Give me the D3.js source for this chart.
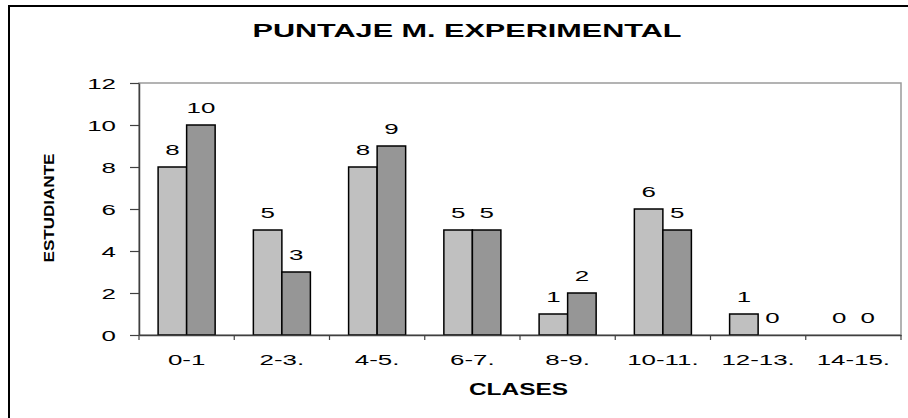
<!DOCTYPE html>
<html>
<head>
<meta charset="utf-8">
<script src="https://cdn.jsdelivr.net/npm/d3@7"></script>
<style>
	body { margin: 0; background: #fff; }
	text { font-family: "Liberation Sans", Arial, sans-serif; fill: #000; }
</style>
</head>
<body>
<div class="chart"></div>
<script>
// values
var categories = ["0-1", "2-3.", "4-5.", "6-7.", "8-9.", "10-11.", "12-13.", "14-15."];
var seriesLight = [8, 5, 8, 5, 1, 6, 1, 0];
var seriesDark = [10, 3, 9, 5, 2, 5, 0, 0];
var seriesNames = ["s1", "s2"];
var seriesColors = ["#c0c0c0", "#969696"];
var yTicks = [0, 2, 4, 6, 8, 10, 12];

var titleText = "PUNTAJE M. EXPERIMENTAL";
var xTitle = "CLASES";
var yTitle = "ESTUDIANTE";

// the original is stretched sideways, so text is too
var stretch = 1.85;

function drawChart() {
	var width = 908,
	    height = 418;
	var plot = {left: 139, right: 901, top: 83, bottom: 335};

	var svg = d3.select("div.chart").append("svg")
	    .attr("width", width)
	    .attr("height", height);

	// outer frame, cut by the right and bottom edges
	svg.append("rect")
	    .attr("x", 9)
	    .attr("y", 6)
	    .attr("width", width + 10)
	    .attr("height", height + 10)
	    .attr("fill", "#fff")
	    .attr("stroke", "#000")
	    .attr("stroke-width", 2);

	var x0 = d3.scaleBand()
	    .domain(categories)
	    .range([plot.left, plot.right])
	    .padding(0);

	var x1 = d3.scaleBand()
	    .domain(seriesNames)
	    .range([0, x0.bandwidth()])
	    .paddingInner(0)
	    .paddingOuter(0.67);

	var y = d3.scaleLinear()
	    .domain([0, 12])
	    .range([plot.bottom, plot.top]);

	// plot area border (top and right show in grey)
	svg.append("rect")
	    .attr("x", plot.left)
	    .attr("y", plot.top)
	    .attr("width", plot.right - plot.left)
	    .attr("height", plot.bottom - plot.top)
	    .attr("fill", "none")
	    .attr("stroke", "#9a9a9a")
	    .attr("stroke-width", 1.5);

	var data = categories.map(function(c, i) {
		return {cat: c, values: [seriesLight[i], seriesDark[i]]};
	});

	var group = svg.selectAll(".group")
	    .data(data)
	    .enter().append("g")
	    .attr("class", "group")
	    .attr("transform", function(d) { return "translate(" + x0(d.cat) + ",0)"; });

	var bar = group.selectAll(".bar")
	    .data(function(d) {
	    	return d.values.map(function(v, j) { return {name: seriesNames[j], value: v, color: seriesColors[j]}; });
	    })
	    .enter().append("g")
	    .attr("class", "bar");

	bar.filter(function(d) { return d.value > 0; })
	    .append("rect")
	    .attr("x", function(d) { return x1(d.name); })
	    .attr("y", function(d) { return y(d.value); })
	    .attr("width", x1.bandwidth())
	    .attr("height", function(d) { return y(0) - y(d.value); })
	    .attr("fill", function(d) { return d.color; })
	    .attr("stroke", "#000")
	    .attr("stroke-width", 1.5);

	bar.append("text")
	    .attr("text-anchor", "middle")
	    .attr("font-size", 14)
	    .attr("transform", function(d) {
	    	var cx = x1(d.name) + x1.bandwidth() / 2;
	    	return "translate(" + cx + "," + (y(d.value) - 12) + ") scale(" + stretch + ",1)";
	    })
	    .text(function(d) { return d.value; });

	// y axis
	var yAxis = svg.append("g")
	    .attr("transform", "translate(" + plot.left + ",0)")
	    .call(d3.axisLeft(y).tickValues(yTicks).tickSize(9).tickSizeOuter(0));
	yAxis.select(".domain").attr("stroke", "#404040").attr("stroke-width", 1.5);
	yAxis.selectAll(".tick line").attr("stroke", "#404040").attr("stroke-width", 1.2);
	yAxis.selectAll(".tick text")
	    .attr("x", 0)
	    .attr("dy", null)
	    .attr("font-size", 14)
	    .attr("font-family", "Liberation Sans, Arial, sans-serif")
	    .attr("transform", "translate(-23,5) scale(" + stretch + ",1)");

	// x axis, labels under the bands
	var xAxis = svg.append("g")
	    .attr("transform", "translate(0," + plot.bottom + ")")
	    .call(d3.axisBottom(x0).tickSize(0).tickSizeOuter(0));
	xAxis.select(".domain").attr("stroke", "#404040").attr("stroke-width", 1.5);
	xAxis.selectAll(".tick text")
	    .attr("y", 0)
	    .attr("dy", null)
	    .attr("font-size", 14)
	    .attr("font-family", "Liberation Sans, Arial, sans-serif")
	    .attr("transform", "translate(0,30) scale(" + stretch + ",1)");

	// tick marks sit on the band edges
	var edges = categories.map(function(c) { return x0(c); }).concat([x0.range()[1]]);
	svg.selectAll(".edge")
	    .data(edges)
	    .enter().append("line")
	    .attr("class", "edge")
	    .attr("x1", function(d) { return d; })
	    .attr("x2", function(d) { return d; })
	    .attr("y1", plot.bottom)
	    .attr("y2", plot.bottom + 5)
	    .attr("stroke", "#404040")
	    .attr("stroke-width", 1.2);

	// titles
	svg.append("text")
	    .attr("x", 467)
	    .attr("y", 37)
	    .attr("text-anchor", "middle")
	    .attr("font-size", 18)
	    .attr("font-weight", "bold")
	    .attr("textLength", 429)
	    .attr("lengthAdjust", "spacingAndGlyphs")
	    .text(titleText);

	svg.append("text")
	    .attr("x", 518.5)
	    .attr("y", 395)
	    .attr("text-anchor", "middle")
	    .attr("font-size", 17)
	    .attr("font-weight", "bold")
	    .attr("textLength", 99)
	    .attr("lengthAdjust", "spacingAndGlyphs")
	    .text(xTitle);

	// y title is squeezed along its length in the original
	svg.append("text")
	    .attr("transform", "translate(53.5,208) rotate(-90)")
	    .attr("text-anchor", "middle")
	    .attr("font-size", 15)
	    .attr("font-weight", "bold")
	    .attr("textLength", 109)
	    .attr("lengthAdjust", "spacingAndGlyphs")
	    .text(yTitle);
}

drawChart();
</script>
</body>
</html>
